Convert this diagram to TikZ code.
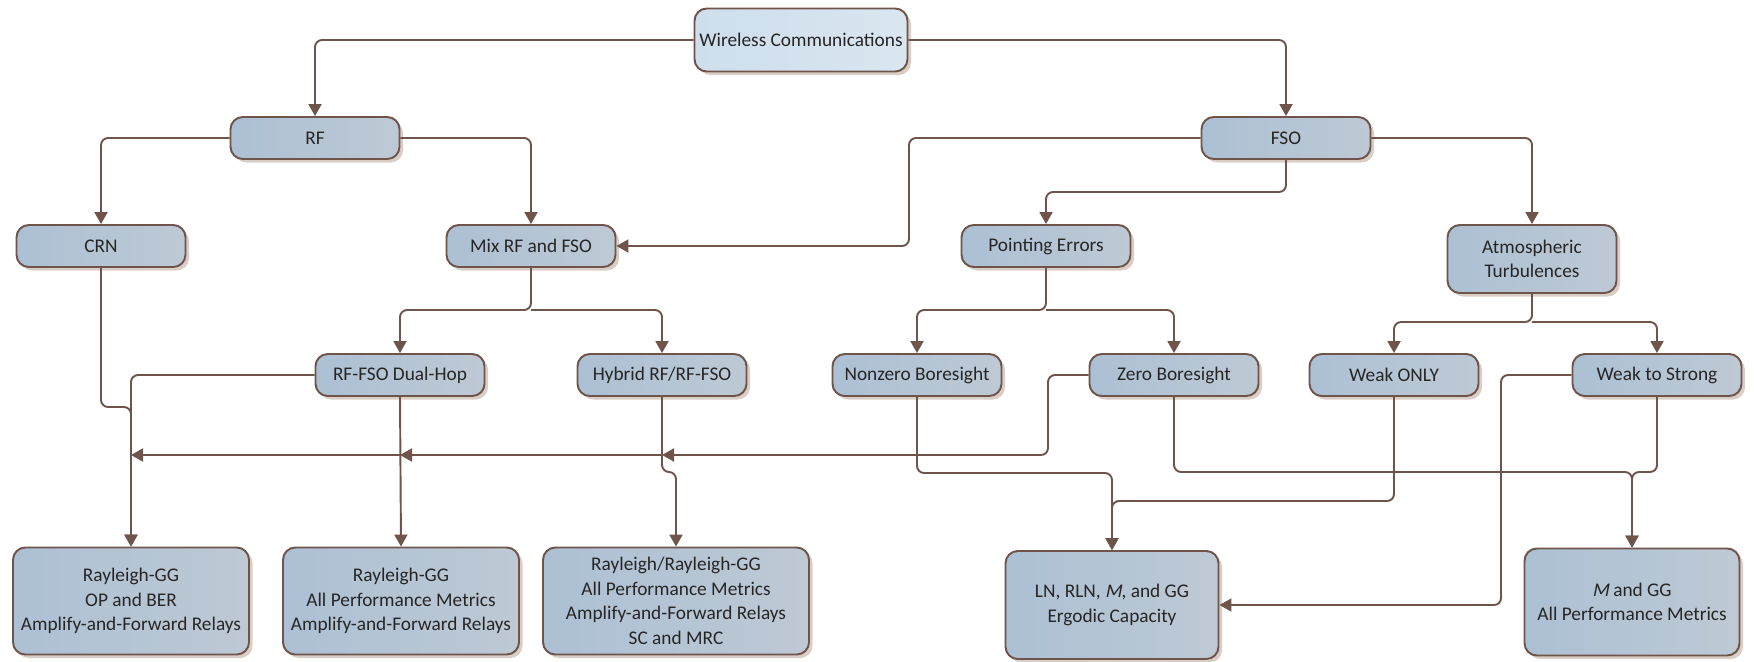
\documentclass[tikz,border=0pt]{standalone}
\usepackage{fontspec}
\setmainfont{Carlito}
\newfontfamily\slantfont{Carlito}[FakeSlant=0.2]
\usepackage{xcolor}
\usetikzlibrary{arrows.meta,positioning,shadows}

\definecolor{linebrown}{RGB}{110,84,74}
\definecolor{boxblue}{RGB}{172,192,212}
\definecolor{boxgrey}{RGB}{190,201,212}
\definecolor{topblue}{RGB}{206,222,236}
\definecolor{toplight}{RGB}{218,230,240}
\definecolor{shadowtan}{RGB}{216,206,198}

\newcommand{\mvar}{{\slantfont M}}

\begin{document}
\begin{tikzpicture}[
    box/.style={rectangle, draw=linebrown, line width=1.1pt, rounded corners=7pt,
                left color=boxblue, right color=boxgrey, text=black!85,
                drop shadow={shadow xshift=2pt, shadow yshift=-2pt, fill=shadowtan, opacity=1},
                minimum width=3.38cm, minimum height=0.84cm, inner sep=2pt, align=center,
                font=\fontsize{11}{14}\selectfont},
    topbox/.style={box, left color=topblue, right color=toplight,
                minimum width=4.26cm, minimum height=1.26cm},
    resbox/.style={box, minimum height=2.14cm},
    arr/.style={-{Triangle[length=2.4mm, width=2.6mm]}, line width=1.1pt, draw=linebrown,
                rounded corners=4pt}
]
    \useasboundingbox (0,0) rectangle (35.08,-13.22);

    \node[topbox] (wc)      at (16.02,-0.80) {Wireless Communications};
    \node[box]    (rf)      at (6.30,-2.76)  {RF};
    \node[box]    (fso)     at (25.72,-2.76) {FSO};

    \node[box] (crn)     at (2.02,-4.92)  {CRN};
    \node[box] (mix)     at (10.62,-4.92) {Mix RF and FSO};
    \node[box] (pe)      at (20.92,-4.92) {Pointing Errors};
    \node[box, minimum height=1.36cm] (atm) at (30.64,-5.18) {Atmospheric\\Turbulences};

    \node[box] (dual)    at (8.00,-7.50)  {RF-FSO Dual-Hop};
    \node[box] (hyb)     at (13.24,-7.50) {Hybrid RF/RF-FSO};
    \node[box] (nonzero) at (18.34,-7.50) {Nonzero Boresight};
    \node[box] (zero)    at (23.48,-7.50) {Zero Boresight};
    \node[box] (weak)    at (27.88,-7.50) {Weak ONLY};
    \node[box] (wts)     at (33.14,-7.50) {Weak to Strong};

    \node[resbox, minimum width=4.72cm] (res1) at (2.62,-12.02)
        {Rayleigh-GG\\OP and BER\\Amplify-and-Forward Relays};
    \node[resbox, minimum width=4.72cm] (res2) at (8.02,-12.02)
        {Rayleigh-GG\\All Performance Metrics\\Amplify-and-Forward Relays};
    \node[resbox, minimum width=5.32cm] (res3) at (13.52,-12.02)
        {Rayleigh/Rayleigh-GG\\All Performance Metrics\\Amplify-and-Forward Relays\\SC and MRC};
    \node[resbox, minimum width=4.26cm, minimum height=2.16cm] (res4) at (22.24,-12.10)
        {LN, RLN, \mvar, and GG\\Ergodic Capacity};
    \node[resbox, minimum width=4.30cm] (res5) at (32.64,-12.04)
        {\mvar{} and GG\\All Performance Metrics};

    % turning points
    \coordinate (fsope)   at (25.72,-3.84);
    \coordinate (fsomix)  at (18.18,-4.00);
    \coordinate (mixsplit) at (10.62,-6.20);
    \coordinate (pesplit) at (20.92,-6.20);
    \coordinate (atmsplit) at (30.64,-6.44);
    \coordinate (crnjog)  at (2.02,-8.14);
    \coordinate (hybjog)  at (13.24,-9.44);
    \coordinate (zturn)   at (20.96,-9.10);
    \coordinate (nzturn)  at (18.34,-9.46);
    \coordinate (zsturn)  at (23.48,-9.44);
    \coordinate (wsturn)  at (33.14,-9.44);
    \coordinate (wkturn)  at (27.88,-10.02);
    \coordinate (wsline)  at (30.02,-10.00);

    % top levels
    \draw[arr] (wc.west) -| (rf.north);
    \draw[arr] (wc.east) -| (fso.north);
    \draw[arr] (rf.west) -| (crn.north);
    \draw[arr] (rf.east) -| (mix.north);
    \draw[arr] (fso.west) -| (fsomix) |- (mix.east);
    \draw[arr] (fso.south) -- (fsope) -| (pe.north);
    \draw[arr] (fso.east) -| (atm.north);

    % splits
    \draw[arr] (mix.south) -- (mixsplit) -| (dual.north);
    \draw[arr] (mixsplit) -| (hyb.north);
    \draw[arr] (pe.south) -- (pesplit) -| (nonzero.north);
    \draw[arr] (pesplit) -| (zero.north);
    \draw[arr] (atm.south) -- (atmsplit) -| (weak.north);
    \draw[arr] (atmsplit) -| (wts.north);

    % to the results
    \draw[arr] (crn.south) -- (crnjog) -| (res1.north);
    \draw[arr] (dual.west) -| (res1.north);
    \draw[arr] (dual.south) -- (res2.north);
    \draw[arr] (hyb.south) -- (hybjog) -| (res3.north);
    \draw[arr] (zero.west) -| (zturn) -- (zturn -| hyb.south);
    \draw[arr] (zturn -| hyb.south) -- (zturn -| dual.south);
    \draw[arr] (zturn -| dual.south) -- (zturn -| res1.north);
    \draw[arr] (nonzero.south) -- (nzturn) -| (res4.north);
    \draw[arr] (weak.south) -- (wkturn) -| (res4.north);
    \draw[arr] (wts.west) -| (wsline) |- (res4.east);
    \draw[arr] (zero.south) -- (zsturn) -| (res5.north);
    \draw[arr] (wts.south) -- (wsturn) -| (res5.north);
\end{tikzpicture}
\end{document}
